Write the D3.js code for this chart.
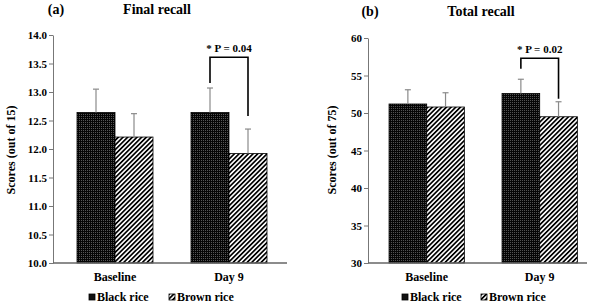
<!DOCTYPE html>
<html>
<head>
<meta charset="utf-8">
<script src="https://cdn.jsdelivr.net/npm/d3@7"></script>
<style>
  body { margin: 0; background: #fff; }
  svg { display: block; font-family: "Liberation Serif", "Times New Roman", serif; font-weight: bold; }
</style>
</head>
<body>
<svg id="chart" width="600" height="304"></svg>
<script>
// data
const groups = ['Baseline', 'Day 9'];
const seriesNames = ['Black rice', 'Brown rice'];

const finalMeans = [[12.64, 12.21], [12.64, 11.92]];
const finalErrors = [[0.41, 0.41], [0.43, 0.43]];
const finalTicks = [10.0, 10.5, 11.0, 11.5, 12.0, 12.5, 13.0, 13.5, 14.0];
const finalSig = { label: '* P = 0.04', top: 13.61, leftEnd: 13.16, rightEnd: 12.58 };

const totalMeans = [[51.2, 50.8], [52.6, 49.5]];
const totalErrors = [[1.9, 1.9], [1.9, 2.0]];
const totalTicks = [30, 35, 40, 45, 50, 55, 60];
const totalSig = { label: '* P = 0.02', top: 57.3, leftEnd: 55.9, rightEnd: 51.9 };

const svg = d3.select('#chart');
const defs = svg.append('defs');

// dotted dark fill for black rice
const dots = defs.append('pattern')
    .attr('id', 'dots')
    .attr('width', 2).attr('height', 2)
    .attr('patternUnits', 'userSpaceOnUse');
dots.append('rect').attr('width', 2).attr('height', 2).attr('fill', '#050505');
dots.append('rect').attr('width', 1).attr('height', 1).attr('fill', '#555');

// diagonal hatch for brown rice
const hatch = defs.append('pattern')
    .attr('id', 'hatch')
    .attr('width', 3.3).attr('height', 3.3)
    .attr('patternUnits', 'userSpaceOnUse')
    .attr('patternTransform', 'rotate(45)');
hatch.append('rect').attr('width', 3.3).attr('height', 3.3).attr('fill', '#fff');
hatch.append('rect').attr('width', 1.7).attr('height', 3.3).attr('fill', '#000');

const fills = ['url(#dots)', 'url(#hatch)'];

function drawPanel(opts) {
    const g = svg.append('g');

    const y = d3.scaleLinear().domain(opts.domain).range([263, opts.yTop]);
    const x = d3.scaleBand().domain(groups).range(opts.bandRange)
        .paddingInner(1 / 3).paddingOuter(1 / 6);
    const xs = d3.scaleBand().domain(seriesNames).range([0, x.bandwidth()]);

    // titles
    g.append('text').attr('x', opts.tagX).attr('y', opts.titleY)
        .attr('text-anchor', 'middle').style('font-size', '14px').text(opts.tag);
    g.append('text').attr('x', opts.titleX).attr('y', opts.titleY)
        .attr('text-anchor', 'middle').style('font-size', '14px').text(opts.title);

    // y axis
    const yAxis = g.append('g')
        .attr('transform', `translate(${opts.axisX[0]},0)`)
        .call(d3.axisLeft(y).tickValues(opts.ticks).tickFormat(opts.fmt)
            .tickSize(4).tickSizeOuter(0).tickPadding(2));
    yAxis.attr('font-family', null);
    yAxis.selectAll('path, line').attr('stroke', '#777');
    yAxis.selectAll('text').attr('fill', '#000').style('font-size', '11px');

    g.append('text')
        .attr('transform', `translate(${opts.labelX},150) rotate(-90)`)
        .attr('text-anchor', 'middle').attr('dy', '0.35em')
        .style('font-size', '12px').text(opts.yLabel);

    // bars
    const grp = g.selectAll('.grp').data(groups).enter().append('g')
        .attr('transform', d => `translate(${x(d)},0)`);

    grp.each(function (gname, gi) {
        const sel = d3.select(this);
        seriesNames.forEach((s, si) => {
            const v = opts.means[gi][si];
            const e = opts.errors[gi][si];
            const cx = xs(s) + xs.bandwidth() / 2;
            sel.append('rect')
                .attr('x', xs(s)).attr('y', y(v))
                .attr('width', xs.bandwidth()).attr('height', y(opts.domain[0]) - y(v))
                .attr('fill', fills[si]).attr('stroke', '#000').attr('stroke-width', 0.8);
            sel.append('line')
                .attr('x1', cx).attr('x2', cx).attr('y1', y(v)).attr('y2', y(v + e))
                .attr('stroke', '#8a8a8a').attr('stroke-width', 1.2);
            sel.append('line')
                .attr('x1', cx - 3).attr('x2', cx + 3).attr('y1', y(v + e)).attr('y2', y(v + e))
                .attr('stroke', '#8a8a8a').attr('stroke-width', 1.2);
        });
    });

    // x axis line
    g.append('line')
        .attr('x1', opts.axisX[0]).attr('x2', opts.axisX[1])
        .attr('y1', y(opts.domain[0])).attr('y2', y(opts.domain[0]))
        .attr('stroke', '#666').attr('stroke-width', 1.5);

    g.selectAll('.cat').data(groups).enter().append('text')
        .attr('x', d => x(d) + x.bandwidth() / 2).attr('y', 281)
        .attr('text-anchor', 'middle').style('font-size', '12px').text(d => d);

    // significance bracket
    const day = groups[1];
    const lx = x(day) + xs(seriesNames[0]) + xs.bandwidth() / 2;
    const rx = x(day) + xs(seriesNames[1]) + xs.bandwidth() / 2;
    g.append('path')
        .attr('d', `M${lx},${y(opts.sig.leftEnd)}V${y(opts.sig.top)}H${rx}V${y(opts.sig.rightEnd)}`)
        .attr('fill', 'none').attr('stroke', '#000').attr('stroke-width', 1.6);
    g.append('text').attr('x', (lx + rx) / 2).attr('y', y(opts.sig.top) - 5)
        .attr('text-anchor', 'middle').style('font-size', '11px').text(opts.sig.label);

    // legend
    const lg = g.append('g');
    seriesNames.forEach((s, si) => {
        const lxp = opts.legendX[si];
        lg.append('rect').attr('x', lxp).attr('y', 294).attr('width', 6).attr('height', 6)
            .attr('fill', si === 0 ? '#111' : 'url(#hatch)').attr('stroke', '#000').attr('stroke-width', 0.8);
        lg.append('text').attr('x', lxp + 8).attr('y', 301)
            .style('font-size', '12px').text(s);
    });
}

drawPanel({
    domain: [10, 14], yTop: 35, ticks: finalTicks, fmt: d3.format('.1f'),
    means: finalMeans, errors: finalErrors, sig: finalSig,
    bandRange: [58, 286], axisX: [53, 287],
    tag: '(a)', tagX: 56, title: 'Final recall', titleX: 157, titleY: 14,
    yLabel: 'Scores (out of 15)', labelX: 11,
    legendX: [89, 169]
});

drawPanel({
    domain: [30, 60], yTop: 38, ticks: totalTicks, fmt: d3.format('d'),
    means: totalMeans, errors: totalErrors, sig: totalSig,
    bandRange: [370.2, 596.2], axisX: [368, 587],
    tag: '(b)', tagX: 370, title: 'Total recall', titleX: 481, titleY: 16,
    yLabel: 'Scores (out of 75)', labelX: 332,
    legendX: [402, 481]
});
</script>
</body>
</html>
